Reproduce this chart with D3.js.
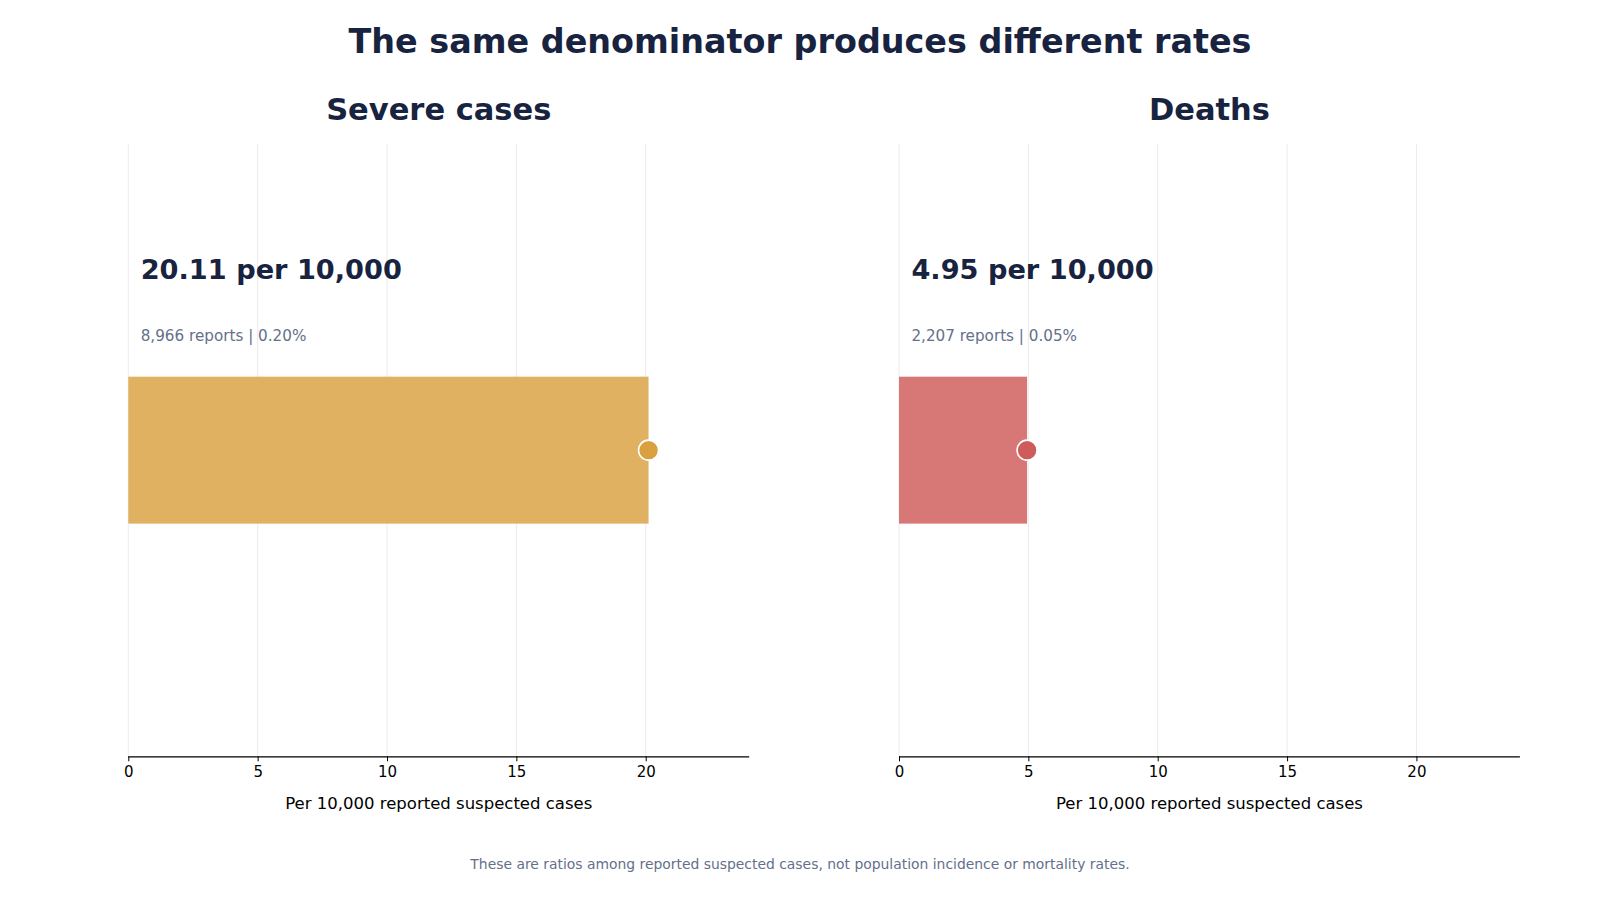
<!DOCTYPE html>
<html>
<head>
<meta charset="utf-8">
<script src="https://cdn.jsdelivr.net/npm/d3@7"></script>
<style>
  html, body { margin: 0; padding: 0; background: #fff; }
  svg { display: block; font-family: "DejaVu Sans", sans-serif; }
</style>
</head>
<body>
<svg id="chart" width="1600" height="900"></svg>
<script>
// ---- data ----
const panels = ['Severe cases', 'Deaths'];
const rates = [20.11, 4.95];          // per 10,000 reported suspected cases
const reports = [8966, 2207];
const percents = [0.20, 0.05];
const xTicks = [0, 5, 10, 15, 20];
const xMax = 24;

// ---- styles ----
const barColors = ['#dfb160', '#d77876'];
const dotColors = ['#d9a03f', '#cd5c5a'];
const dark = '#18233f';
const muted = '#64708a';

const svg = d3.select('#chart');
const W = 1600;

svg.append('text')
  .attr('x', W / 2).attr('y', 53)
  .attr('text-anchor', 'middle')
  .attr('font-size', 33.4).attr('font-weight', 'bold')
  .attr('fill', dark)
  .text('The same denominator produces different rates');

// plot boxes (matplotlib-like subplot layout)
const panelLeft = [128.3, 899];
const panelWidth = 620.9;
const plotTop = 144, plotBottom = 756.3;

const y = d3.scaleLinear().domain([-1, 1]).range([plotBottom, plotTop]);
const fmt = d3.format(',');

panels.forEach((name, i) => {
  const x = d3.scaleLinear().domain([0, xMax]).range([panelLeft[i], panelLeft[i] + panelWidth]);
  const g = svg.append('g').attr('class', 'panel');

  // gridlines
  g.selectAll('.grid')
    .data(xTicks)
    .join('line')
    .attr('class', 'grid')
    .attr('x1', d => x(d)).attr('x2', d => x(d))
    .attr('y1', plotTop).attr('y2', plotBottom)
    .attr('stroke', '#ebebeb').attr('stroke-width', 1);

  // bar
  g.append('rect')
    .attr('x', x(0))
    .attr('y', y(0.24))
    .attr('width', x(rates[i]) - x(0))
    .attr('height', y(-0.24) - y(0.24))
    .attr('fill', barColors[i]);

  // end dot
  g.append('circle')
    .attr('cx', x(rates[i])).attr('cy', y(0))
    .attr('r', 10)
    .attr('fill', dotColors[i])
    .attr('stroke', '#fff').attr('stroke-width', 1.6);

  // axis
  const axis = d3.axisBottom(x).tickValues(xTicks).tickSize(5).tickPadding(5);
  const ax = g.append('g')
    .attr('transform', `translate(0,${plotBottom})`)
    .call(axis)
    .attr('font-size', null)
    .attr('font-family', null);
  ax.select('.domain').attr('stroke', '#000').attr('stroke-width', 1.2)
    .attr('d', `M${x(0)},0.5H${x(xMax)}`);
  ax.selectAll('.tick line').attr('stroke', '#000');
  ax.selectAll('.tick text')
    .style('font-size', '15px').attr('fill', '#000')
    .style('font-family', '"DejaVu Sans", sans-serif');

  const cx = (x(0) + x(xMax)) / 2;

  // panel title
  g.append('text')
    .attr('x', cx).attr('y', 120.3)
    .attr('text-anchor', 'middle')
    .attr('font-size', 30.5).attr('font-weight', 'bold')
    .attr('fill', dark)
    .text(name);

  // x label
  g.append('text')
    .attr('x', cx).attr('y', 808.5)
    .attr('text-anchor', 'middle')
    .attr('font-size', 16.5).attr('fill', '#000')
    .text('Per 10,000 reported suspected cases');

  // value annotation
  const tx = x(0) + 0.02 * panelWidth;
  g.append('text')
    .attr('x', tx).attr('y', 278.5)
    .attr('font-size', 27.2).attr('font-weight', 'bold')
    .attr('fill', dark)
    .text(`${rates[i].toFixed(2)} per 10,000`);

  g.append('text')
    .attr('x', tx).attr('y', 340.5)
    .attr('font-size', 15.2)
    .attr('fill', muted)
    .text(`${fmt(reports[i])} reports | ${percents[i].toFixed(2)}%`);
});

svg.append('text')
  .attr('x', W / 2).attr('y', 869)
  .attr('text-anchor', 'middle')
  .attr('font-size', 13.9).attr('fill', muted)
  .text('These are ratios among reported suspected cases, not population incidence or mortality rates.');
</script>
</body>
</html>
